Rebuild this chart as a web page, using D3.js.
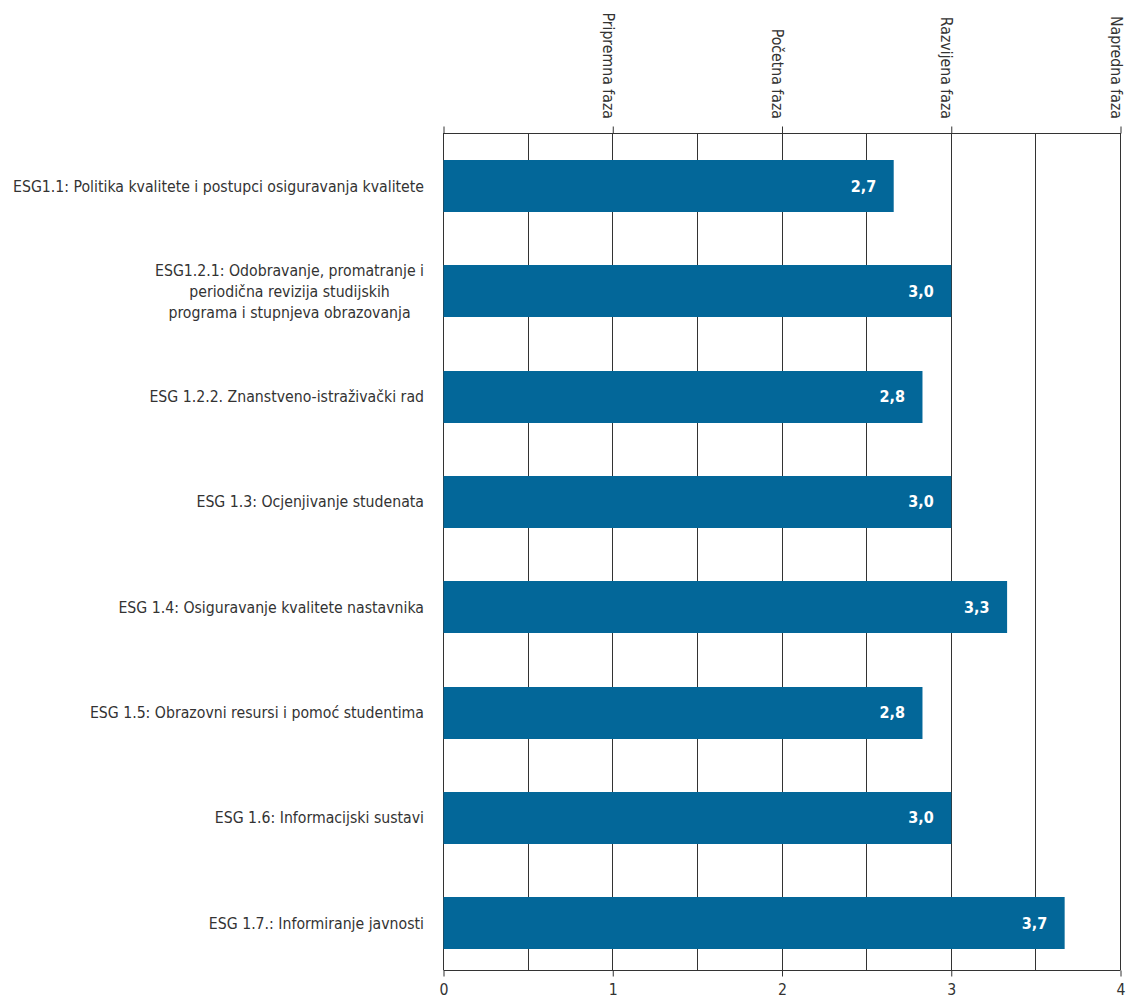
<!DOCTYPE html>
<html><head><meta charset="utf-8">
<script src="https://cdn.jsdelivr.net/npm/d3@7"></script>
<style>
body{margin:0;background:#fff;}
svg{display:block;}
text{font-family:"Liberation Sans Narrow","DejaVu Sans Condensed","Arial Narrow",sans-serif;}
</style></head>
<body>
<script>
const categories = [
  ["ESG1.1: Politika kvalitete i postupci osiguravanja kvalitete"],
  ["ESG1.2.1: Odobravanje, promatranje i","periodična revizija studijskih","programa i stupnjeva obrazovanja"],
  ["ESG 1.2.2. Znanstveno-istraživački rad"],
  ["ESG 1.3: Ocjenjivanje studenata"],
  ["ESG 1.4: Osiguravanje kvalitete nastavnika"],
  ["ESG 1.5: Obrazovni resursi i pomoć studentima"],
  ["ESG 1.6: Informacijski sustavi"],
  ["ESG 1.7.: Informiranje javnosti"]
];
const values = [2.66, 3.0, 2.83, 3.0, 3.33, 2.83, 3.0, 3.67];
const valueLabels = ["2,7","3,0","2,8","3,0","3,3","2,8","3,0","3,7"];
const bottomTicks = [0,1,2,3,4];
const phaseLabels = ["Pripremna faza","Početna faza","Razvijena faza","Napredna faza"];
const phaseTicks = [1,2,3,4];
const gridValues = [0,0.5,1,1.5,2,2.5,3,3.5,4];

(function(){
const W=1128,H=1000;
const mLeft=443,mRight=1120,mTop=133,mBottom=970;
const svg=d3.select("body").append("svg").attr("width",W).attr("height",H);

const x=d3.scaleLinear().domain([0,4]).range([mLeft,mRight]);
const y=d3.scaleBand().domain(d3.range(categories.length)).range([133.4,975.8]).paddingInner(0.5).paddingOuter(0.25);

const dark="#333";
// gridlines
svg.append("g").selectAll("line").data(gridValues).join("line")
  .attr("x1",d=>Math.round(x(d))+0.5).attr("x2",d=>Math.round(x(d))+0.5)
  .attr("y1",mTop).attr("y2",mBottom).attr("stroke",dark).attr("stroke-width",1);

// top axis
const topAxis=d3.axisTop(x).tickValues([0].concat(phaseTicks)).tickSize(7).tickFormat("");
const gt=svg.append("g").attr("transform",`translate(0.5,${mTop+0.5})`).call(topAxis);
gt.select(".domain").attr("stroke",dark).attr("d",`M${mLeft},0H${mRight}`);
gt.selectAll(".tick line").attr("stroke",dark);

// bottom axis
const bottomAxis=d3.axisBottom(x).tickValues(bottomTicks).tickSize(6).tickFormat(d=>d);
const gb=svg.append("g").attr("transform",`translate(0.5,${mBottom+0.5})`).call(bottomAxis);
gb.select(".domain").attr("stroke",dark).attr("d",`M${mLeft},0H${mRight}`);
gb.selectAll(".tick line").attr("stroke",dark);
gb.selectAll(".tick text").attr("fill",dark).attr("font-size",15.7).attr("dy","0.98em")
  .style("font-family",'"Liberation Sans Narrow","DejaVu Sans Condensed",sans-serif');

// phase labels
svg.append("g").selectAll("text").data(phaseTicks).join("text")
  .attr("transform",d=>`translate(${x(d)-4},119) rotate(90)`)
  .attr("text-anchor","end").attr("dominant-baseline","central")
  .attr("font-size",15.7).attr("fill",dark)
  .text((d,i)=>phaseLabels[i]);

// bars
const bh=52;
svg.append("g").selectAll("rect").data(values).join("rect")
  .attr("x",mLeft+0.5).attr("y",(d,i)=>Math.round(y(i)+y.bandwidth()/2-bh/2))
  .attr("width",d=>x(d)-mLeft).attr("height",bh).attr("fill","#036799");

// value labels
svg.append("g").selectAll("text").data(values).join("text")
  .attr("x",d=>x(d)-17).attr("y",(d,i)=>y(i)+y.bandwidth()/2)
  .attr("text-anchor","end").attr("dominant-baseline","central")
  .attr("font-size",16).attr("font-weight","bold").attr("fill","#fff")
  .text((d,i)=>valueLabels[i]);

// category labels
const labelRight=424;
categories.forEach((lines,i)=>{
  const cy=y(i)+y.bandwidth()/2;
  const g=svg.append("g");
  const lh=21;
  const t=g.selectAll("text").data(lines).join("text")
    .attr("y",(d,j)=>cy+(j-(lines.length-1)/2)*lh)
    .attr("dominant-baseline","central")
    .attr("font-size",15.7).attr("fill",dark).text(d=>d);
  let maxW=0; t.each(function(){maxW=Math.max(maxW,this.getComputedTextLength());});
  t.attr("x",labelRight-maxW/2).attr("text-anchor","middle");
});
})();
</script>
</body></html>
